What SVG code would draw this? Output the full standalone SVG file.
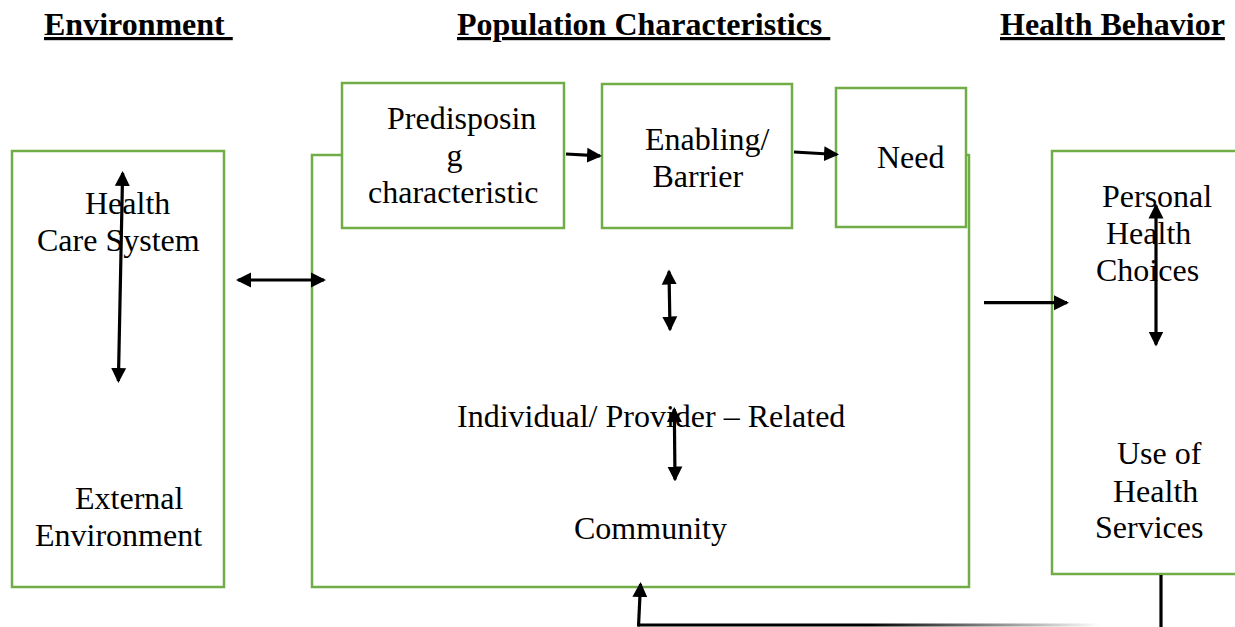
<svg xmlns="http://www.w3.org/2000/svg" width="1235" height="627" viewBox="0 0 1235 627">
<defs>
<style>
.box{fill:#fff;stroke:#70AD47;stroke-width:2.5}
.frame{fill:none;stroke:#70AD47;stroke-width:2.5}
.t{font-family:"Liberation Serif","Times New Roman",serif;font-size:32px;fill:#000}
.h{font-family:"Liberation Serif","Times New Roman",serif;font-size:32px;font-weight:bold;fill:#000;text-decoration:underline;white-space:pre}
.c{fill:none;stroke:#000;stroke-width:3.2}
</style>
<marker id="ah" viewBox="0 0 15 16" markerUnits="userSpaceOnUse" markerWidth="15" markerHeight="16" refX="13" refY="8" orient="auto-start-reverse">
<path d="M0,0.5 L15,8 L0,15.5 z" fill="#000"/>
</marker>
<linearGradient id="fade" gradientUnits="userSpaceOnUse" x1="638" y1="0" x2="1100" y2="0">
<stop offset="0" stop-color="#000"/>
<stop offset="0.5" stop-color="#000"/>
<stop offset="1" stop-color="#000" stop-opacity="0"/>
</linearGradient>
</defs>
<rect width="1235" height="627" fill="#fff"/>

<g id="headers">
<text class="h" x="44" y="35" xml:space="preserve">Environment </text>
<text class="h" x="457" y="35" xml:space="preserve">Population Characteristics </text>
<text class="h" x="1000" y="35">Health Behavior</text>
</g>

<g id="population">
<path class="frame" d="M342,155 H312 V587 H969 V155 H966"/>
<text class="t" x="457" y="427">Individual/ Provider – Related</text>
<text class="t" x="574" y="539">Community</text>
</g>

<g id="environment">
<rect class="box" x="12" y="151" width="212" height="436"/>
<text class="t" x="85" y="214">Health</text>
<text class="t" x="37" y="250.5">Care System</text>
<text class="t" x="75" y="509">External</text>
<text class="t" x="35" y="546">Environment</text>
</g>

<g id="predisposing">
<rect class="box" x="342" y="83" width="222" height="145"/>
<text class="t" x="387" y="129.3">Predisposin</text>
<text class="t" x="446.5" y="166.3">g</text>
<text class="t" x="368" y="203.3">characteristic</text>
</g>

<g id="enabling">
<rect class="box" x="602" y="84" width="190" height="144"/>
<text class="t" x="645" y="150">Enabling/</text>
<text class="t" x="652.5" y="186.7">Barrier</text>
</g>

<g id="need">
<rect class="box" x="836" y="88" width="130" height="139"/>
<text class="t" x="877" y="168.3">Need</text>
</g>

<g id="behavior">
<rect class="box" x="1052" y="151" width="200" height="423"/>
<text class="t" x="1102" y="206.7">Personal</text>
<text class="t" x="1106" y="244">Health</text>
<text class="t" x="1096" y="280.5">Choices</text>
<text class="t" x="1117" y="464.3">Use of</text>
<text class="t" x="1113" y="501.7">Health</text>
<text class="t" x="1095" y="538.3">Services</text>
</g>

<g id="connectors">
<line class="c" x1="122.6" y1="173" x2="118.4" y2="381" marker-start="url(#ah)" marker-end="url(#ah)"/>
<line class="c" x1="238" y1="280" x2="324" y2="280" marker-start="url(#ah)" marker-end="url(#ah)"/>
<line class="c" x1="566" y1="154" x2="600" y2="155.9" marker-end="url(#ah)"/>
<line class="c" x1="794" y1="152" x2="837" y2="154.5" marker-end="url(#ah)"/>
<line class="c" x1="669" y1="271.5" x2="670" y2="329.5" marker-start="url(#ah)" marker-end="url(#ah)"/>
<line class="c" x1="674.3" y1="409" x2="675" y2="479.5" marker-start="url(#ah)" marker-end="url(#ah)"/>
<line class="c" x1="984" y1="302.7" x2="1067" y2="302.7" marker-end="url(#ah)"/>
<line class="c" x1="1156" y1="205.5" x2="1156" y2="344.5" marker-start="url(#ah)" marker-end="url(#ah)"/>
<line class="c" x1="1161" y1="575" x2="1161" y2="630"/>
<line x1="638" y1="625" x2="1161" y2="625" stroke="url(#fade)" stroke-width="3"/>
<line class="c" x1="638.5" y1="626.5" x2="640.5" y2="584" marker-end="url(#ah)"/>
</g>
</svg>
